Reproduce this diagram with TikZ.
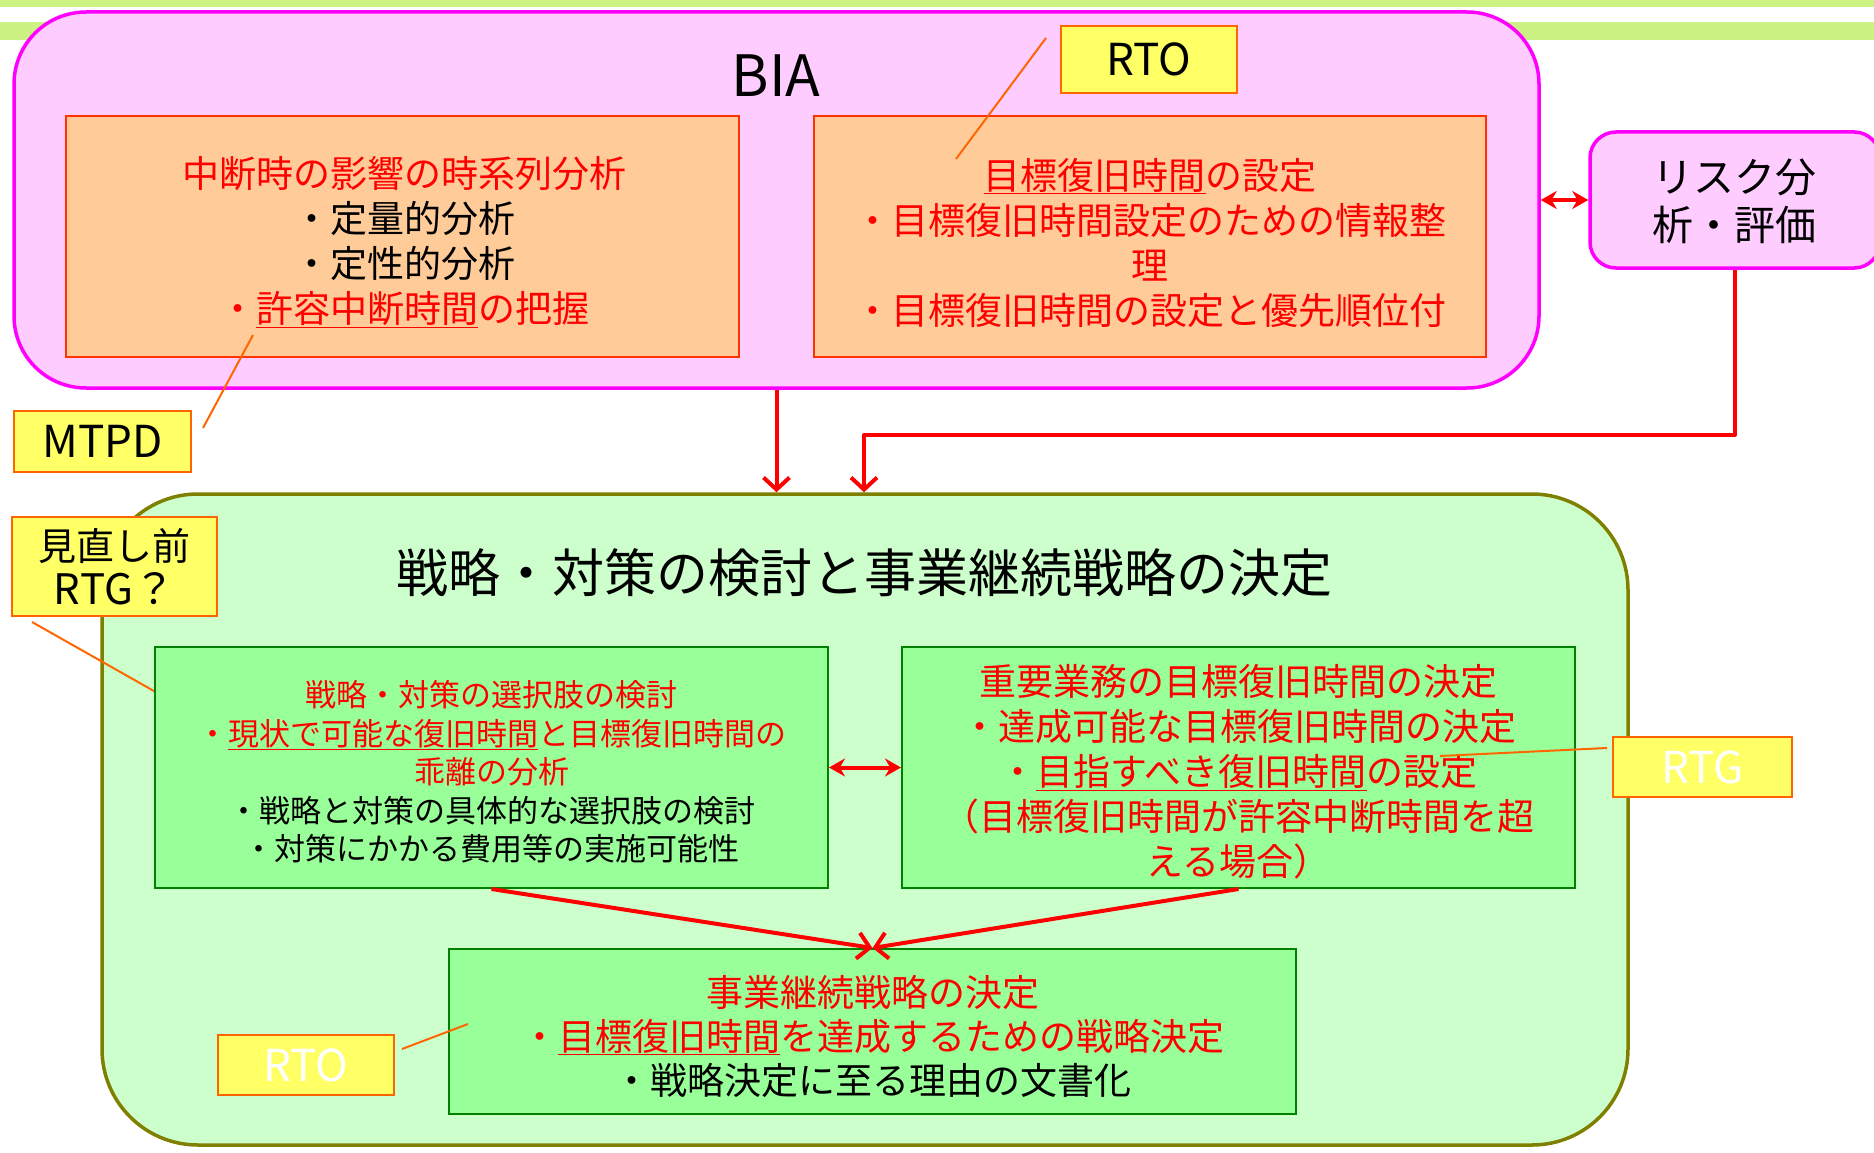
\documentclass[tikz,border=0pt]{standalone}
\usepackage{fontspec}
\setmainfont{Noto Sans CJK JP}
\usetikzlibrary{arrows.meta,calc}
\definecolor{stripe}{HTML}{CCF284}
\definecolor{pinkbg}{HTML}{FFCCFF}
\definecolor{mag}{HTML}{FF00FF}
\definecolor{orfill}{HTML}{FFCC99}
\definecolor{orline}{HTML}{FF3300}
\definecolor{yel}{HTML}{FFFF66}
\definecolor{yelline}{HTML}{FF6600}
\definecolor{gbig}{HTML}{CCFFCC}
\definecolor{olive2}{HTML}{808000}
\definecolor{gsub}{HTML}{99FF99}
\definecolor{gline}{HTML}{008000}
\definecolor{rd}{HTML}{FF0000}
\newcommand\myfs[2]{\fontsize{#1}{#2}\selectfont}
\tikzset{
  biabox/.style={draw=mag, line width=3.5pt, fill=pinkbg, rounded corners=72pt, inner sep=0pt},
  riskbox/.style={draw=mag, line width=3.5pt, fill=pinkbg, rounded corners=26pt, inner sep=0pt},
  obox/.style={draw=orline, line width=2pt, fill=orfill, inner sep=0pt},
  ybox/.style={draw=yelline, line width=2.5pt, fill=yel, inner sep=0pt, align=center, font=\myfs{44}{46}},
  bigbox/.style={draw=olive2, line width=3.5pt, fill=gbig, rounded corners=96pt, inner sep=0pt},
  gbox/.style={draw=gline, line width=2pt, fill=gsub, inner sep=0pt},
  boxtext/.style={inner sep=0pt, align=center},
  callout/.style={draw=yelline, line width=2pt},
  arr/.style={draw=rd, line width=4pt, -{Straight Barb[length=12pt,width=26pt]}},
  elbow/.style={draw=rd, line width=4pt, line join=round, -{Straight Barb[length=12pt,width=26pt]}},
  dbl/.style={draw=rd, line width=4pt, {Stealth[length=16pt,width=18pt]}-{Stealth[length=16pt,width=18pt]}},
}
\begin{document}
\begin{tikzpicture}[x=1pt,y=-1pt]
\useasboundingbox (0,0) rectangle (1874,1153);
\clip (0,0) rectangle (1874,1153);
% background stripes
\fill[stripe] (0,0) rectangle (1874,7);
\fill[stripe] (0,22) rectangle (1874,40);

% BIA
\node[biabox, minimum width=1525pt, minimum height=376pt] (bia) at (776.5,200) {};
\node[font=\myfs{57}{60}] (biat) at (776,76) {BIA};
\node[obox, minimum width=673pt, minimum height=241pt] (o1) at (402.5,236.5) {};
\node[boxtext, font=\myfs{37}{45}] (o1t) at (404,242.5)
  {\textcolor{rd}{中断時の影響の時系列分析}\\
   ・定量的分析\\
   ・定性的分析\\
   \textcolor{rd}{・\underline{許容中断時間}の把握}};
\node[obox, minimum width=672pt, minimum height=241pt] (o2) at (1150,236.5) {};
\node[boxtext, font=\myfs{37}{45}] (o2t) at (1150,242.5)
  {\textcolor{rd}{\underline{目標復旧時間}の設定}\\
   \textcolor{rd}{・目標復旧時間設定のための情報整}\\
   \textcolor{rd}{理}\\
   \textcolor{rd}{・目標復旧時間の設定と優先順位付}};
\node[ybox, minimum width=176pt, minimum height=67pt] (rto1) at (1149,59.5) {RTO};
\coordinate (rto1a) at (1046,38);
\coordinate (rto1b) at (956,159);
\draw[callout] (rto1a) -- (rto1b);

% MTPD
\node[ybox, minimum width=177pt, minimum height=61pt] (mtpd) at (102.5,441.5) {MTPD};
\coordinate (mtpda) at (203,428);
\coordinate (mtpdb) at (253,335);
\draw[callout] (mtpda) -- (mtpdb);

% risk
\node[riskbox, minimum width=290pt, minimum height=136pt] (risk) at (1735,200) {};
\node[align=center, font=\myfs{41}{48}] (riskt) at (1734,201) {リスク分\\析・評価};

% big green
\node[bigbox, minimum width=1526pt, minimum height=651pt] (green) at (865,819.5) {};
\node[font=\myfs{52}{56}] (greent) at (864,573) {戦略・対策の検討と事業継続戦略の決定};

% connectors upper
\draw[dbl] (bia.east) -- (risk.west);
\draw[arr] (bia.south) -- (bia.south |- green.north);
\coordinate (j) at (864,435);
\draw[elbow] (risk.south) |- (j) -- (j |- green.north);

% before RTG
\node[ybox, font=\myfs{38}{44}, minimum width=205pt, minimum height=99pt] (mae) at (114.5,566.5) {見直し前\\{\myfs{42}{44}RTG？}};
\coordinate (maea) at (32,622);
\coordinate (maeb) at (191,712);
\draw[callout] (maea) -- (maeb);

% sub boxes
\node[gbox, minimum width=673pt, minimum height=241pt] (s1) at (491.5,767.5) {};
\node[boxtext, font=\myfs{31}{38.5}] (s1t) at (491.5,772)
  {\textcolor{rd}{戦略・対策の選択肢の検討}\\
   \textcolor{rd}{・\underline{現状で可能な復旧時間}と目標復旧時間の}\\
   \textcolor{rd}{乖離の分析}\\
   ・戦略と対策の具体的な選択肢の検討\\
   ・対策にかかる費用等の実施可能性};
\node[gbox, minimum width=673pt, minimum height=241pt] (s2) at (1238.5,767.5) {};
\node[boxtext, font=\myfs{37}{45}] (s2t) at (1238.5,771.5)
  {\textcolor{rd}{重要業務の目標復旧時間の決定}\\
   \textcolor{rd}{・達成可能な目標復旧時間の決定}\\
   \textcolor{rd}{・\underline{目指すべき復旧時間}の設定}\\
   \textcolor{rd}{（目標復旧時間が許容中断時間を超}\\
   \textcolor{rd}{える場合）}};
\node[gbox, minimum width=847pt, minimum height=165pt] (s3) at (872.5,1031.5) {};
\node[boxtext, font=\myfs{37}{44}] (s3t) at (872.5,1036)
  {\textcolor{rd}{事業継続戦略の決定}\\
   \textcolor{rd}{・\underline{目標復旧時間}を達成するための戦略決定}\\
   ・戦略決定に至る理由の文書化};

\draw[dbl] (s1.east) -- (s2.west);
\draw[arr] (s1.south) -- (s3.north);
\draw[arr] (s2.south) -- (s3.north);

% RTG / RTO callouts
\node[ybox, text=white, minimum width=179pt, minimum height=60pt] (rtg) at (1702.5,767) {RTG};
\coordinate (rtga) at (1607,748);
\coordinate (rtgb) at (1440,756);
\draw[callout] (rtga) -- (rtgb);
\node[ybox, text=white, minimum width=176pt, minimum height=60pt] (rto2) at (306,1065) {RTO};
\coordinate (rto2a) at (402,1049);
\coordinate (rto2b) at (468,1024);
\draw[callout] (rto2a) -- (rto2b);
\end{tikzpicture}
\end{document}
